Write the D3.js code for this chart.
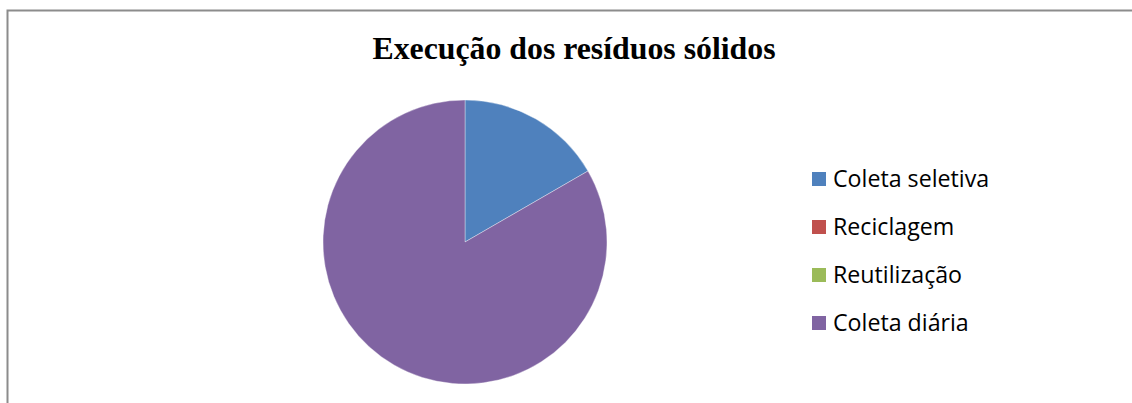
<!DOCTYPE html>
<html>
<head>
<meta charset="utf-8">
<script src="https://cdn.jsdelivr.net/npm/d3@7"></script>
<style>
  html, body { margin: 0; padding: 0; background: #fff; }
  svg { display: block; }
</style>
</head>
<body>
<svg id="chart" width="1132" height="403"></svg>
<script>
// Waste handling categories and their counts
const categories = ["Coleta seletiva", "Reciclagem", "Reutilização", "Coleta diária"];
const values = [1, 0, 0, 5];
const colors = ["#4f81bd", "#c0504d", "#9bbb59", "#8064a2"];
const title = "Execução dos resíduos sólidos";

const svg = d3.select("#chart");

// Chart frame (top and left edges visible)
svg.append("path")
  .attr("d", "M7.5,403 V10.5 H1132")
  .attr("fill", "none")
  .attr("stroke", "#8c8c8c")
  .attr("stroke-width", 2);

// Title
svg.append("text")
  .attr("x", 574)
  .attr("y", 59)
  .attr("text-anchor", "middle")
  .attr("font-family", "'Liberation Serif', 'Times New Roman', serif")
  .attr("font-weight", "bold")
  .attr("font-size", 31.8)
  .attr("fill", "#000")
  .text(title);

// Pie
const data = categories.map((c, i) => ({ name: c, value: values[i], color: colors[i] }));
const pie = d3.pie().value(d => d.value).sort(null);
const arc = d3.arc().innerRadius(0).outerRadius(142);

const g = svg.append("g").attr("transform", "translate(465,242)");
g.selectAll("path")
  .data(pie(data))
  .join("path")
  .attr("d", arc)
  .attr("fill", d => d.data.color)
  .attr("stroke", d => d.data.value > 0 ? "#ffffff" : "none")
  .attr("stroke-opacity", 0.6)
  .attr("stroke-width", 0.6);

// Legend
const legendY = d3.scalePoint().domain(categories).range([179, 323]);
const legend = svg.append("g");
const item = legend.selectAll("g")
  .data(data)
  .join("g")
  .attr("transform", d => `translate(812,${legendY(d.name)})`);
item.append("rect")
  .attr("x", 0).attr("y", -7)
  .attr("width", 14).attr("height", 14)
  .attr("fill", d => d.color);
item.append("text")
  .attr("x", 21)
  .attr("y", 0)
  .attr("dy", "0.36em")
  .attr("font-family", "'Open Sans', 'Noto Sans', sans-serif")
  .attr("font-size", 23.2)
  .attr("fill", "#000")
  .text(d => d.name);
</script>
</body>
</html>
